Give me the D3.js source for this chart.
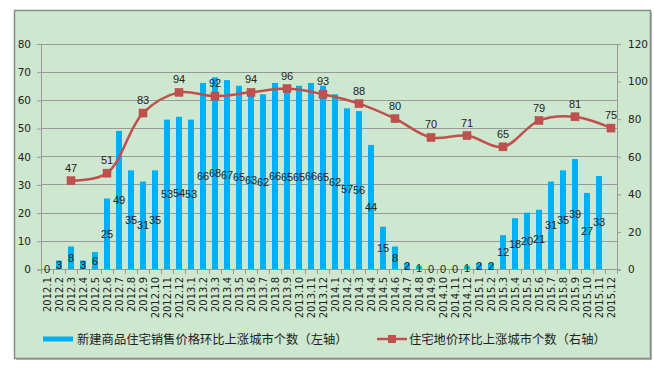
<!DOCTYPE html>
<html>
<head>
<meta charset="utf-8">
<script src="https://cdn.jsdelivr.net/npm/d3@7"></script>
<style>
  body { margin: 0; background: #fff; }
  svg text { fill: #222; }
</style>
</head>
<body>
<svg id="chart" width="654" height="373"></svg>
<script>
// monthly categories on the x axis
var months = ["2012.1","2012.2","2012.3","2012.4","2012.5","2012.6","2012.7","2012.8","2012.9","2012.10","2012.11","2012.12",
  "2013.1","2013.2","2013.3","2013.4","2013.5","2013.6","2013.7","2013.8","2013.9","2013.10","2013.11","2013.12",
  "2014.1","2014.2","2014.3","2014.4","2014.5","2014.6","2014.7","2014.8","2014.9","2014.10","2014.11","2014.12",
  "2015.1","2015.2","2015.3","2015.4","2015.5","2015.6","2015.7","2015.8","2015.9","2015.10","2015.11","2015.12"];

// bars: new housing price up cities (left axis), 2012.1 .. 2015.11
var priceUp = [0,3,8,3,6,25,49,35,31,35,53,54,
  53,66,68,67,65,63,62,66,65,65,66,65,
  62,57,56,44,15,8,2,1,0,0,0,1,
  2,2,12,18,20,21,31,35,39,27,33];

// line: land price up cities (right axis), quarterly
var landMonths = ["2012.3","2012.6","2012.9","2012.12","2013.3","2013.6","2013.9","2013.12",
  "2014.3","2014.6","2014.9","2014.12","2015.3","2015.6","2015.9","2015.12"];
var landUp = [47,51,83,94,92,94,96,93,88,80,70,71,65,79,81,75];

var leftTicks = [0,10,20,30,40,50,60,70,80];
var rightTicks = [0,20,40,60,80,100,120];

var barName = "新建商品住宅销售价格环比上涨城市个数（左轴）";
var lineName = "住宅地价环比上涨城市个数（右轴）";

var svg = d3.select("#chart");
var plot = {left: 41, right: 617, top: 43.5, bottom: 269};
var numFont = "'DejaVu Sans', Verdana, sans-serif";
var cjkFont = "'Noto Sans CJK SC', sans-serif";

// frame with a light shadow
svg.append("rect").attr("x", 16).attr("y", 12).attr("width", 636).attr("height", 348)
  .attr("fill", "#b8b8b8");
svg.append("rect").attr("x", 14.5).attr("y", 10.5).attr("width", 636).attr("height", 348)
  .attr("fill", "#cde8cf").attr("stroke", "#8a8a8a").attr("stroke-width", 1.5);

var x = d3.scaleBand().domain(months).range([plot.left, plot.right])
  .paddingInner(0.5).paddingOuter(0.25);
var yL = d3.scaleLinear().domain([0, 80]).range([plot.bottom, plot.top]);
var yR = d3.scaleLinear().domain([0, 120]).range([plot.bottom, plot.top]);
var center = function (m) { return x(m) + x.bandwidth() / 2; };

// gridlines
svg.append("g").selectAll("line").data(leftTicks).enter().append("line")
  .attr("x1", plot.left).attr("x2", plot.right)
  .attr("y1", function (d) { return Math.round(yL(d)) + 0.5; })
  .attr("y2", function (d) { return Math.round(yL(d)) + 0.5; })
  .attr("stroke", "#999").attr("stroke-width", 1);

// left axis
var gl = svg.append("g").attr("transform", "translate(" + plot.left + ",0.5)")
  .call(d3.axisLeft(yL).tickValues(leftTicks).tickSize(4).tickPadding(6));
gl.select(".domain").attr("stroke", "#999");
gl.selectAll(".tick line").attr("stroke", "#999");
gl.selectAll("text").attr("font-family", numFont).attr("font-size", 10.5).attr("fill", "#222");

// right axis
var gr = svg.append("g").attr("transform", "translate(" + plot.right + ",0.5)")
  .call(d3.axisRight(yR).tickValues(rightTicks).tickSize(4).tickPadding(7));
gr.select(".domain").attr("stroke", "#999");
gr.selectAll(".tick line").attr("stroke", "#999");
gr.selectAll("text").attr("font-family", numFont).attr("font-size", 10.5).attr("fill", "#222");

// x axis ticks between categories
var step = x.step();
svg.append("g").selectAll("line").data(d3.range(months.length + 1)).enter().append("line")
  .attr("x1", function (i) { return Math.round(plot.left + i * step) + 0.5; })
  .attr("x2", function (i) { return Math.round(plot.left + i * step) + 0.5; })
  .attr("y1", plot.bottom).attr("y2", plot.bottom + 5)
  .attr("stroke", "#999");
svg.append("line").attr("x1", plot.left).attr("x2", plot.right)
  .attr("y1", plot.bottom + 0.5).attr("y2", plot.bottom + 0.5).attr("stroke", "#999");

svg.append("g").selectAll("text").data(months).enter().append("text")
  .attr("transform", function (d) { return "translate(" + (center(d) + 3.5) + "," + (plot.bottom + 8) + ") rotate(-90)"; })
  .attr("text-anchor", "end")
  .attr("font-family", numFont).attr("font-size", 10)
  .text(function (d) { return d; });

// bars
svg.append("g").selectAll("rect").data(priceUp).enter().append("rect")
  .attr("x", function (d, i) { return x(months[i]); })
  .attr("width", x.bandwidth())
  .attr("y", function (d) { return yL(d); })
  .attr("height", function (d) { return plot.bottom - yL(d); })
  .attr("fill", "#00b0f0");

svg.append("g").selectAll("text").data(priceUp).enter().append("text")
  .attr("x", function (d, i) { return center(months[i]); })
  .attr("y", function (d) { return (yL(d) + plot.bottom) / 2 + 4; })
  .attr("text-anchor", "middle")
  .attr("font-family", "'Liberation Sans', Arial, sans-serif").attr("font-size", 11)
  .text(function (d) { return d; });

// line with square markers
var line = d3.line()
  .x(function (d, i) { return center(landMonths[i]); })
  .y(function (d) { return yR(d); })
  .curve(d3.curveCatmullRom.alpha(0.5));

svg.append("path").datum(landUp).attr("d", line)
  .attr("fill", "none").attr("stroke", "#c0504d").attr("stroke-width", 2.5);

svg.append("g").selectAll("rect").data(landUp).enter().append("rect")
  .attr("x", function (d, i) { return center(landMonths[i]) - 4; })
  .attr("y", function (d) { return yR(d) - 4; })
  .attr("width", 8).attr("height", 8)
  .attr("fill", "#c0504d").attr("stroke", "#b54642").attr("stroke-width", 0.5);

svg.append("g").selectAll("text").data(landUp).enter().append("text")
  .attr("x", function (d, i) { return center(landMonths[i]); })
  .attr("y", function (d) { return yR(d) - 9; })
  .attr("text-anchor", "middle")
  .attr("font-family", "'Liberation Sans', Arial, sans-serif").attr("font-size", 11)
  .text(function (d) { return d; });

// legend
var lg = svg.append("g").attr("transform", "translate(0,339)");
lg.append("rect").attr("x", 43).attr("y", -2.5).attr("width", 30).attr("height", 5).attr("fill", "#00b0f0");
lg.append("text").attr("x", 77).attr("y", 4.5)
  .attr("font-family", cjkFont).attr("font-size", 12.3).text(barName);
lg.append("line").attr("x1", 377).attr("x2", 407).attr("y1", 0).attr("y2", 0)
  .attr("stroke", "#c0504d").attr("stroke-width", 2.5);
lg.append("rect").attr("x", 388).attr("y", -4).attr("width", 8).attr("height", 8).attr("fill", "#c0504d");
lg.append("text").attr("x", 409).attr("y", 4.5)
  .attr("font-family", cjkFont).attr("font-size", 12.3).text(lineName);
</script>
</body>
</html>
